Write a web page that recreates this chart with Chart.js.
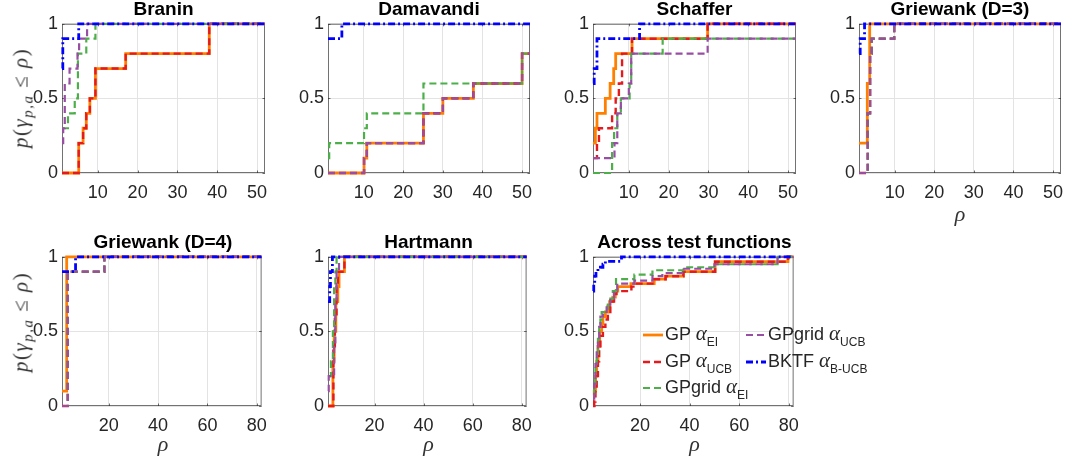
<!DOCTYPE html>
<html>
<head>
<meta charset="utf-8">
<script src="https://cdn.jsdelivr.net/npm/chart.js@4.4.1/dist/chart.umd.min.js"></script>
<style>
  body { margin: 0; background: #fff; width: 1068px; height: 465px; position: relative; overflow: hidden;
         font-family: "Liberation Sans", Arial, sans-serif; color: #262626; }
  canvas { position: absolute; }
  .title { position: absolute; font-weight: bold; font-size: 19px; line-height: 19px; color: #000;
           white-space: nowrap; transform: translateX(-50%); }
  .ylab { position: absolute; font-family: "Liberation Serif", serif; font-size: 21px; white-space: nowrap;
          letter-spacing: 1.5px; transform: translate(-50%, -50%) rotate(-90deg); color: #333; }
  .ylab i { font-style: italic; }
  .ylab sub { font-size: 15px; font-style: italic; vertical-align: -5px; line-height: 0; }
  .xlab { position: absolute; font-family: "Liberation Serif", serif; font-style: italic; font-size: 22px;
          line-height: 22px; transform: translateX(-50%); color: #333; }
  .legtxt { position: absolute; font-size: 18px; line-height: 18px; white-space: nowrap; color: #262626; }
  .gk { font-family: "Liberation Serif", serif; font-style: italic; font-size: 21px; line-height: 0; }
  .sb { font-size: 12px; line-height: 0; position: relative; top: 6px; }
  svg { position: absolute; }
</style>
</head>
<body>
<script>
// performance profiles: [rho where the curve steps up, value after the step]
// series order: GP EI, GP UCB, GPgrid EI, GPgrid UCB, BKTF B-UCB

const braninGpEi    = [[1,0],[5.2,0.2],[6.3,0.3],[7.1,0.4],[8,0.5],[9.4,0.7],[17,0.8],[38,1]];
const braninGpUcb   = [[1,0],[5.2,0.2],[6.3,0.3],[7.1,0.4],[8,0.5],[9.4,0.7],[17,0.8],[38,1]];
const braninGridEi  = [[1,0.3],[2.5,0.4],[4.2,0.5],[5,0.8],[7.1,0.9],[9.4,1]];
const braninGridUcb = [[1,0.2],[1.3,0.3],[1.7,0.6],[2.9,0.7],[4.9,0.8],[5.3,0.9],[7.3,1]];
const braninBktf    = [[1,0.7],[1.2,0.9],[5.2,1]];

const damaGpEi    = [[1,0],[10.1,0.1],[10.8,0.2],[25.1,0.4],[30,0.5],[37.7,0.6],[50,0.8]];
const damaGpUcb   = [[1,0],[10.1,0.1],[10.8,0.2],[25.1,0.4],[30,0.5],[37.7,0.6],[50,0.8]];
const damaGridEi  = [[1,0.1],[1.3,0.2],[10.1,0.3],[10.8,0.4],[25.1,0.6],[50,0.8]];
const damaGridUcb = [[1,0],[10.1,0.1],[10.8,0.2],[25.1,0.4],[30,0.5],[37.7,0.6],[50,0.8]];
const damaBktf    = [[1,0.9],[4.5,1]];

const schGpEi    = [[1,0.2],[1.6,0.3],[2,0.4],[4.1,0.5],[5.3,0.6],[6.2,0.7],[6.7,0.8],[10.8,0.9],[29.8,1]];
const schGpUcb   = [[1,0.1],[2,0.2],[2.5,0.3],[5.8,0.4],[6.7,0.5],[7.5,0.6],[8.3,0.8],[10.8,0.9],[29.8,1]];
const schGridEi  = [[1,0],[5.8,0.2],[6.3,0.3],[7.1,0.4],[8,0.5],[10.2,0.6],[10.6,0.8],[18.5,0.9]];
const schGridUcb = [[1,0.1],[6.4,0.2],[7.1,0.4],[8,0.5],[10,0.6],[10.6,0.8],[29.8,0.9]];
const schBktf    = [[1,0.6],[1.3,0.7],[2,0.9],[12.7,1]];

const grw3GpEi    = [[1,0.2],[3.1,0.6],[3.7,1]];
const grw3GpUcb   = [[1,0],[3.2,0.4],[3.8,0.8],[4.2,0.9],[9.9,1]];
const grw3GridEi  = [[1,0],[3.2,0.4],[3.8,0.8],[4.2,0.9],[9.9,1]];
const grw3GridUcb = [[1,0],[3.2,0.4],[3.8,0.8],[4.2,0.9],[9.9,1]];
const grw3Bktf    = [[1,0.8],[1.3,0.9],[2.4,1]];

const grw4GpEi    = [[1,0.1],[2.9,1]];
const grw4GpUcb   = [[1,0],[3.3,0.9],[18.2,1]];
const grw4GridEi  = [[1,0],[3.3,0.9],[18.2,1]];
const grw4GridUcb = [[1,0],[3.4,0.9],[18.2,1]];
const grw4Bktf    = [[1,0.9],[6.5,1]];

const hartGpEi    = [[1,0],[3,0.3],[3.5,0.5],[4.2,0.7],[5,0.8],[5.5,0.9],[7.7,1]];
const hartGpUcb   = [[1,0],[3.2,0.4],[3.8,0.6],[4.5,0.8],[5,0.9],[7.7,1]];
const hartGridEi  = [[1,0.2],[2.2,0.3],[3,0.5],[3.5,0.8],[4,0.9],[4.5,1]];
const hartGridUcb = [[1,0.1],[1.3,0.2],[3.5,0.4],[4,0.7],[4.5,0.9],[5.5,1]];
const hartBktf    = [[1,0.7],[1.7,0.8],[2,0.9],[2.8,1]];

const allGpEi    = [[1,0.07],[1.5,0.1],[2,0.2],[2.5,0.3],[3,0.4],[3.7,0.5],[4.5,0.55],[5,0.6],[6,0.63],[7,0.67],
                    [7.7,0.7],[9,0.73],[10,0.77],[11,0.8],[16.3,0.82],[25.7,0.85],[30.3,0.87],[37.5,0.9],[50.3,0.967],[79.7,1]];
const allGpUcb   = [[1,0],[1.5,0.03],[2,0.1],[2.5,0.2],[3,0.3],[3.5,0.4],[4,0.47],[5,0.53],[6,0.58],[7,0.62],
                    [8,0.7],[9.5,0.75],[10.5,0.77],[16.5,0.8],[18,0.82],[25.7,0.85],[30.3,0.87],[37.5,0.9],[50.3,0.967],[79.7,1]];
const allGridEi  = [[1,0.08],[1.5,0.15],[2,0.25],[2.5,0.35],[3,0.45],[3.5,0.52],[4,0.58],[4.5,0.63],[6,0.65],[7,0.68],
                    [8,0.72],[9,0.77],[10.3,0.85],[17.7,0.88],[25,0.91],[37.5,0.93],[50,0.95],[75.5,1]];
const allGridUcb = [[1,0.05],[1.5,0.15],[2,0.28],[2.5,0.38],[3,0.45],[3.5,0.53],[4,0.6],[5,0.63],[6.5,0.68],[8,0.72],
                    [9.5,0.77],[10.8,0.82],[17.7,0.84],[25,0.87],[29,0.89],[37,0.92],[50,0.95],[75.5,1]];
const allBktf    = [[1,0.77],[1.3,0.82],[1.7,0.87],[2.2,0.9],[3,0.92],[4,0.93],[5,0.95],[6,0.97],[12.5,1]];

const xTicksTop = [10, 20, 30, 40, 50];
const xTicksBottom = [20, 40, 60, 80];
const yTicks = [0, 0.5, 1];
const legendNames = [['GP', 'EI'], ['GP', 'UCB'], ['GPgrid', 'EI'], ['GPgrid', 'UCB'], ['BKTF', 'B-UCB']];

// styles
const lineColors = ['rgb(255,127,0)', 'rgb(228,26,28)', 'rgb(77,175,74)', 'rgb(152,78,163)', 'rgb(0,0,255)'];
const lineWidths = [2.8, 2.4, 2.2, 2.2, 2.8];
const lineDash = [[], [7, 4], [7, 4], [7, 4], [7, 3, 2, 3]];

const panels = [
  { title: 'Branin', L: 62, T: 21, W: 203, xmax: 52, xt: xTicksTop, ylab: true,
    s: [braninGpEi, braninGpUcb, braninGridEi, braninGridUcb, braninBktf] },
  { title: 'Damavandi', L: 328, T: 21, W: 202, xmax: 52, xt: xTicksTop,
    s: [damaGpEi, damaGpUcb, damaGridEi, damaGridUcb, damaBktf] },
  { title: 'Schaffer', L: 593, T: 21, W: 203, xmax: 52, xt: xTicksTop,
    s: [schGpEi, schGpUcb, schGridEi, schGridUcb, schBktf] },
  { title: 'Griewank (D=3)', L: 859, T: 21, W: 202, xmax: 52, xt: xTicksTop, xlab: true,
    s: [grw3GpEi, grw3GpUcb, grw3GridEi, grw3GridUcb, grw3Bktf] },
  { title: 'Griewank (D=4)', L: 62, T: 254, W: 202, xmax: 82, xt: xTicksBottom, ylab: true, xlab: true,
    s: [grw4GpEi, grw4GpUcb, grw4GridEi, grw4GridUcb, grw4Bktf] },
  { title: 'Hartmann', L: 328, T: 254, W: 201, xmax: 82, xt: xTicksBottom, xlab: true,
    s: [hartGpEi, hartGpUcb, hartGridEi, hartGridUcb, hartBktf] },
  { title: 'Across test functions', L: 593, T: 254, W: 203, xmax: 82, xt: xTicksBottom, xlab: true,
    s: [allGpEi, allGpUcb, allGridEi, allGridUcb, allBktf] },
];
const H = 152;
const PAD_L = 50, PAD_T = 12, PAD_R = 12, PAD_B = 32;

function stairs(pts, xmax) {
  const d = pts.map(p => ({ x: p[0], y: p[1] }));
  d.push({ x: xmax, y: pts[pts.length - 1][1] });
  return d;
}

// matlab style box with inward ticks, drawn under the data
const boxPlugin = {
  id: 'box',
  beforeDatasetsDraw(chart) {
    const { ctx, chartArea: a, scales } = chart;
    ctx.save();
    ctx.strokeStyle = 'rgba(38,38,38,0.65)';
    ctx.lineWidth = 1;
    ctx.strokeRect(a.left + 0.5, a.top + 0.5, a.width - 1, a.height - 1);
    ctx.beginPath();
    const tl = 2.5;
    scales.x.ticks.forEach(t => {
      const px = Math.round(scales.x.getPixelForValue(t.value)) + 0.5;
      ctx.moveTo(px, a.bottom); ctx.lineTo(px, a.bottom - tl);
      ctx.moveTo(px, a.top); ctx.lineTo(px, a.top + tl);
    });
    scales.y.ticks.forEach(t => {
      const py = Math.round(scales.y.getPixelForValue(t.value)) + 0.5;
      ctx.moveTo(a.left, py); ctx.lineTo(a.left + tl, py);
      ctx.moveTo(a.right, py); ctx.lineTo(a.right - tl, py);
    });
    ctx.stroke();
    ctx.restore();
  }
};

Chart.defaults.font.family = '"Liberation Sans", Arial, sans-serif';
Chart.defaults.font.size = 18;
Chart.defaults.color = '#262626';

function addDiv(cls, html, left, top) {
  const el = document.createElement('div');
  el.className = cls;
  el.innerHTML = html;
  el.style.left = left + 'px';
  el.style.top = top + 'px';
  document.body.appendChild(el);
  return el;
}

panels.forEach(p => {
  const cv = document.createElement('canvas');
  cv.width = p.W + PAD_L + PAD_R;
  cv.height = H + PAD_T + PAD_B;
  cv.style.left = (p.L - PAD_L) + 'px';
  cv.style.top = (p.T - PAD_T) + 'px';
  document.body.appendChild(cv);

  new Chart(cv, {
    type: 'line',
    data: {
      datasets: p.s.map((pts, i) => ({
        data: stairs(pts, p.xmax),
        borderColor: lineColors[i],
        borderWidth: lineWidths[i],
        borderDash: lineDash[i],
        stepped: 'before',
        pointRadius: 0,
        fill: false,
        order: 5 - i,
        clip: 5
      }))
    },
    options: {
      responsive: false,
      animation: false,
      events: [],
      layout: { padding: { left: 0, top: PAD_T, right: PAD_R, bottom: 0 } },
      plugins: { legend: { display: false }, tooltip: { enabled: false } },
      scales: {
        x: {
          type: 'linear', min: 1, max: p.xmax,
          afterBuildTicks: s => { s.ticks = p.xt.map(v => ({ value: v })); },
          afterFit: s => { s.height = PAD_B; },
          grid: { color: '#e3e3e3', drawTicks: false },
          border: { display: false },
          ticks: { padding: 9, maxRotation: 0, autoSkip: false, callback: v => String(v) }
        },
        y: {
          type: 'linear', min: 0, max: 1,
          afterBuildTicks: s => { s.ticks = yTicks.map(v => ({ value: v })); },
          afterFit: s => { s.width = PAD_L; },
          grid: { color: '#e3e3e3', drawTicks: false },
          border: { display: false },
          ticks: { padding: 4, callback: v => String(v) }
        }
      }
    },
    plugins: [boxPlugin]
  });

  const cx = p.L + p.W / 2;
  addDiv('title', p.title, cx, p.T - 22);
  if (p.ylab) {
    addDiv('ylab', '<i>p</i>(<i>γ</i><sub>p,a</sub> ≤ <i>ρ</i>)', 21, p.T === 21 ? 98 : 322);
  }
  if (p.xlab) {
    addDiv('xlab', 'ρ', cx, p.T + H + (p.T === 21 ? 30 : 27));
  }
});

// legend inside the last panel, two columns
const legendSlots = [[643, 335], [643, 361.7], [643, 388.3], [746, 335], [746, 361.7]];
legendNames.forEach((nm, i) => {
  const [x0, y0] = legendSlots[i];
  const svg = document.createElementNS('http://www.w3.org/2000/svg', 'svg');
  svg.setAttribute('width', 20);
  svg.setAttribute('height', 6);
  svg.style.left = x0 + 'px';
  svg.style.top = (y0 - 3) + 'px';
  const ln = document.createElementNS('http://www.w3.org/2000/svg', 'line');
  ln.setAttribute('x1', 0); ln.setAttribute('y1', 3);
  ln.setAttribute('x2', 20); ln.setAttribute('y2', 3);
  ln.setAttribute('stroke', lineColors[i]);
  ln.setAttribute('stroke-width', lineWidths[i]);
  if (lineDash[i].length) ln.setAttribute('stroke-dasharray', lineDash[i].join(' '));
  svg.appendChild(ln);
  document.body.appendChild(svg);
  addDiv('legtxt', nm[0] + ' <span class="gk">α</span><span class="sb">' + nm[1] + '</span>', x0 + 22, y0 + 5 - 15.2);
});
</script>
</body>
</html>
